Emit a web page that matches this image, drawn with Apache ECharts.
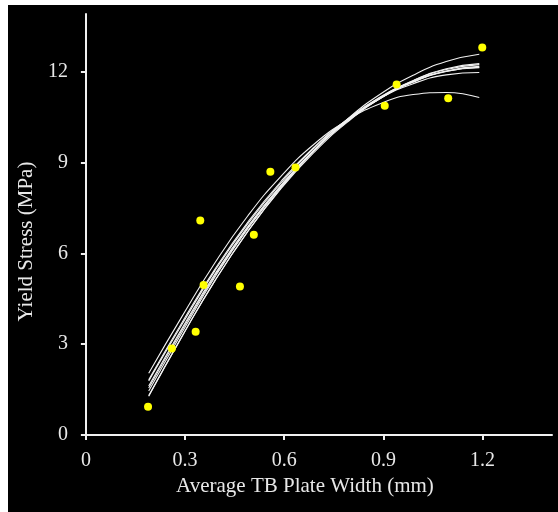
<!DOCTYPE html>
<html>
<head>
<meta charset="utf-8">
<script src="https://cdn.jsdelivr.net/npm/echarts@6/dist/echarts.min.js"></script>
<style>
  html, body { margin: 0; padding: 0; background: #fff; }
  #chart { position: absolute; left: 8px; top: 5px; width: 550px; height: 507px; background: #000; }
</style>
</head>
<body>
<div id="chart"></div>
<script>
// measured points: TB plate width (mm) vs yield stress (MPa)
const widths = [0.188, 0.260, 0.332, 0.346, 0.356, 0.466, 0.508, 0.558, 0.634, 0.904, 0.940, 1.096, 1.199]
const stress = [0.93, 2.86, 3.41, 7.08, 4.95, 4.90, 6.61, 8.69, 8.83, 10.87, 11.57, 11.12, 12.79]

const fitX = [0.19, 0.29, 0.39, 0.49, 0.59, 0.69, 0.79, 0.89, 0.99, 1.09, 1.19]
const fitA = [1.55, 3.45, 5.26, 6.85, 8.22, 9.39, 10.35, 11.11, 11.66, 12.02, 12.17]
const fitB = [1.45, 3.37, 5.21, 6.82, 8.20, 9.39, 10.37, 11.14, 11.70, 12.07, 12.23]
const fitC = [1.78, 3.64, 5.42, 6.98, 8.32, 9.47, 10.41, 11.16, 11.67, 12.01, 12.13]
const fitD = [1.30, 3.24, 5.09, 6.72, 8.13, 9.33, 10.32, 11.11, 11.70, 12.09, 12.26]
const fitE = [1.62, 3.51, 5.31, 6.89, 8.25, 9.41, 10.36, 11.11, 11.65, 12.00, 12.14]
const fitF = [1.28, 3.24, 5.09, 6.73, 8.16, 9.39, 10.42, 11.25, 11.88, 12.33, 12.57]
const fitG = [2.04, 3.90, 5.68, 7.24, 8.54, 9.60, 10.38, 10.94, 11.24, 11.31, 11.14]
const fitH = [1.82, 3.70, 5.47, 7.03, 8.37, 9.50, 10.41, 11.11, 11.60, 11.89, 11.97]

const xTicks = [0, 0.3, 0.6, 0.9, 1.2]
const yTicks = [0, 3, 6, 9, 12]

const chart = echarts.init(document.getElementById('chart'))

const font = 'Liberation Serif, Times New Roman, serif'
const fits = [fitA, fitB, fitC, fitD, fitE, fitF, fitG, fitH]

const fitSeries = fits.map(ys => ({
  type: 'line',
  data: fitX.map((x, i) => [x, ys[i]]),
  smooth: true,
  showSymbol: false,
  silent: true,
  lineStyle: { color: '#f2f2f2', width: 1.1 },
  z: 2
}))

chart.setOption({
  backgroundColor: '#000',
  animation: false,
  grid: { left: 76, right: 6, top: 9, bottom: 77 },
  xAxis: {
    type: 'value',
    min: 0,
    max: 1.41,
    name: 'Average TB Plate Width (mm)',
    nameLocation: 'middle',
    nameGap: 40,
    nameTextStyle: { color: '#e8e8e8', fontFamily: font, fontSize: 21, padding: [0, 28, 0, 0] },
    axisLine: { lineStyle: { color: '#f0f0f0', width: 2 } },
    axisTick: { customValues: xTicks, length: 5, lineStyle: { color: '#f0f0f0', width: 2 } },
    axisLabel: { customValues: xTicks, color: '#e8e8e8', fontFamily: font, fontSize: 20, margin: 16 },
    splitLine: { show: false }
  },
  yAxis: {
    type: 'value',
    min: 0,
    max: 13.9,
    name: 'Yield Stress (MPa)',
    nameLocation: 'middle',
    nameGap: 36,
    nameTextStyle: { color: '#e8e8e8', fontFamily: font, fontSize: 21, padding: [0, 34, 0, 0] },
    axisLine: { lineStyle: { color: '#f0f0f0', width: 2 } },
    axisTick: { customValues: yTicks, length: 5, lineStyle: { color: '#f0f0f0', width: 2 } },
    axisLabel: { customValues: yTicks, color: '#e8e8e8', fontFamily: font, fontSize: 20, margin: 18 },
    splitLine: { show: false }
  },
  series: [
    ...fitSeries,
    {
      type: 'scatter',
      data: widths.map((x, i) => [x, stress[i]]),
      symbolSize: 8,
      itemStyle: { color: '#ffff00', opacity: 1 },
      z: 5
    }
  ]
})

window.addEventListener('resize', () => chart.resize())
</script>
</body>
</html>
